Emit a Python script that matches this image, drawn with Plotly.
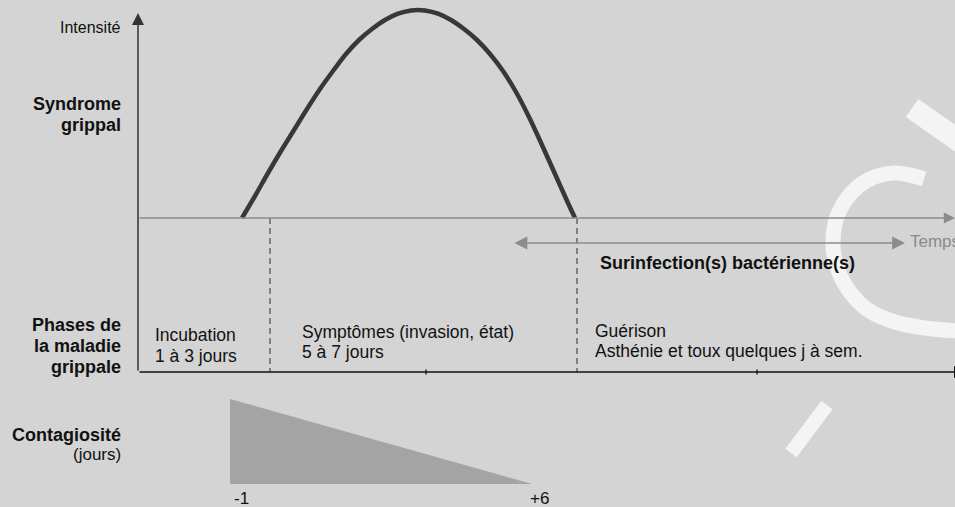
import plotly.graph_objects as go

# ---- data (coordinates in the chart's pixel-like frame: x 0..955, y 0..507 downward) ----
curve_x = [242, 255, 268, 281, 294, 307, 320, 333, 346, 359, 372, 385, 398, 411, 418,
           425, 438, 451, 464, 477, 490, 503, 516, 529, 542, 555, 568, 575]
curve_y = [218, 196, 173, 151, 130, 109, 89, 71, 54, 40, 29, 20, 13.6, 10.4, 10,
           10.4, 13.6, 20, 29, 40, 54, 71, 92, 117, 145, 174, 203, 218]

contag_x = [230, 230, 532, 230]
contag_y = [399, 484, 484, 399]
contag_labels = ["-1", "+6"]

baseline_y = 218
axis_y = 372
axis_x0 = 138
phase_bounds = [270, 577]
ticks_x = [426, 757]

left_labels = [
    ("Intensité", 27.5, False, 16),
    ("Syndrome", 103.5, True, 18),
    ("grippal", 124.5, True, 18),
    ("Phases de", 325, True, 18),
    ("la maladie", 346, True, 18),
    ("grippale", 366.5, True, 18),
    ("Contagiosité", 434.5, True, 18),
    ("(jours)", 454, False, 17),
]
phase_texts = [
    (153, 335, "Incubation"), (153, 355.5, "1 à 3 jours"),
    (300, 331.5, "Symptômes (invasion, état)"), (300, 352, "5 à 7 jours"),
    (593, 331, "Guérison"), (593, 351, "Asthénie et toux quelques j à sem."),
]

wm_arc_x = [924, 895, 868, 848, 836, 833, 838, 850, 868, 895, 925, 958]
wm_arc_y = [179, 173, 180, 197, 220, 245, 270, 292, 310, 322, 328, 331]
wm_bar1_x = [912, 962]
wm_bar1_y = [108, 143]
wm_bar2_x = [827, 791]
wm_bar2_y = [405, 453]

FONT = "Liberation Sans, Arial, sans-serif"
BG = "#d4d4d4"
WM = "#f4f4f4"

fig = go.Figure()

# watermark
for xs, ys, w in [(wm_arc_x, wm_arc_y, 15), (wm_bar1_x, wm_bar1_y, 22), (wm_bar2_x, wm_bar2_y, 14)]:
    fig.add_trace(go.Scatter(x=xs, y=ys, mode="lines", line=dict(color=WM, width=w, shape="spline"),
                             hoverinfo="skip", showlegend=False))

# contagiousness triangle
fig.add_trace(go.Scatter(x=contag_x, y=contag_y, fill="toself", fillcolor="#a4a4a4",
                         mode="lines", line=dict(width=0, color="#a4a4a4"),
                         hoverinfo="skip", showlegend=False))

# intensity curve
fig.add_trace(go.Scatter(x=curve_x, y=curve_y, mode="lines",
                         line=dict(color="#383838", width=4.5, shape="spline", smoothing=1.0),
                         hoverinfo="skip", showlegend=False))

shapes = []
for xb in phase_bounds:
    shapes.append(dict(type="line", xref="x", yref="y", x0=xb, x1=xb, y0=baseline_y, y1=axis_y,
                       line=dict(color="#555555", width=1.3, dash="6px,4px")))
for xt in ticks_x:
    shapes.append(dict(type="line", xref="x", yref="y", x0=xt, x1=xt, y0=axis_y - 2.5, y1=axis_y + 2.5,
                       line=dict(color="#111111", width=1.3)))

annotations = []
# axes arrows
annotations.append(dict(x=axis_x0, y=13, ax=axis_x0, ay=axis_y, xref="x", yref="y", axref="x", ayref="y",
                        text="", showarrow=True, arrowhead=2, arrowsize=1.6, arrowwidth=1.5,
                        arrowcolor="#333333"))
annotations.append(dict(x=966, y=axis_y, ax=axis_x0, ay=axis_y, xref="x", yref="y", axref="x", ayref="y",
                        text="", showarrow=True, arrowhead=2, arrowsize=1.6, arrowwidth=1.5,
                        arrowcolor="#111111"))
annotations.append(dict(x=955, y=baseline_y, ax=axis_x0, ay=baseline_y, xref="x", yref="y", axref="x", ayref="y",
                        text="", showarrow=True, arrowhead=2, arrowsize=1.6, arrowwidth=1.4,
                        arrowcolor="#8c8c8c"))
annotations.append(dict(x=905, y=243, ax=513, ay=243, xref="x", yref="y", axref="x", ayref="y",
                        text="", showarrow=True, arrowhead=2, startarrowhead=2, arrowside="end+start",
                        arrowsize=1.6, startarrowsize=1.6, arrowwidth=1.6, arrowcolor="#8c8c8c"))

for txt, yy, bold, sz in left_labels:
    annotations.append(dict(x=123, y=yy, xref="x", yref="y", text=f"<b>{txt}</b>" if bold else txt,
                            showarrow=False, xanchor="right", yanchor="middle",
                            font=dict(family=FONT, size=sz, color="#111111")))
for xx, yy, txt in phase_texts:
    annotations.append(dict(x=xx, y=yy, xref="x", yref="y", text=txt, showarrow=False,
                            xanchor="left", yanchor="middle",
                            font=dict(family=FONT, size=17.5, color="#111111")))
annotations.append(dict(x=598, y=263, xref="x", yref="y", text="<b>Surinfection(s) bactérienne(s)</b>",
                        showarrow=False, xanchor="left", yanchor="middle",
                        font=dict(family=FONT, size=18, color="#111111")))
annotations.append(dict(x=908, y=241, xref="x", yref="y", text="Temps", showarrow=False,
                        xanchor="left", yanchor="middle",
                        font=dict(family=FONT, size=17, color="#8a8a8a")))
annotations.append(dict(x=contag_x[0] + 2, y=498, xref="x", yref="y", text=contag_labels[0], showarrow=False,
                        xanchor="left", yanchor="middle", font=dict(family=FONT, size=17, color="#111111")))
annotations.append(dict(x=contag_x[2] - 4, y=498, xref="x", yref="y", text=contag_labels[1], showarrow=False,
                        xanchor="left", yanchor="middle", font=dict(family=FONT, size=17, color="#111111")))

fig.update_layout(
    width=955, height=507, margin=dict(l=0, r=0, t=0, b=0),
    paper_bgcolor=BG, plot_bgcolor=BG,
    xaxis=dict(range=[0, 955], visible=False, fixedrange=True),
    yaxis=dict(range=[507, 0], visible=False, fixedrange=True),
    shapes=shapes, annotations=annotations, showlegend=False,
)
fig.write_html("out.html", config={"displayModeBar": False},
               post_script="document.body.style.margin='0';document.body.style.overflow='hidden';document.body.style.background='#d4d4d4';")
